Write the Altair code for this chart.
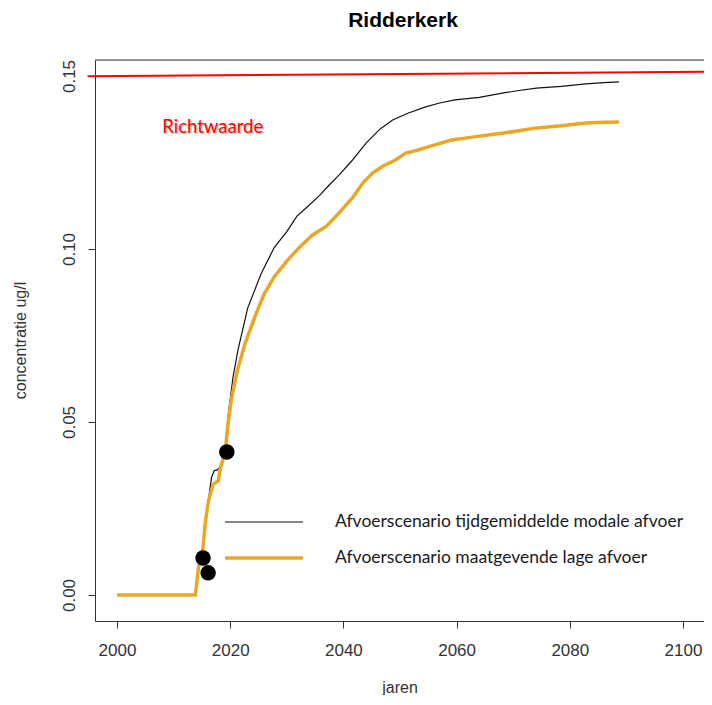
import altair as alt
import pandas as pd

# ---- data ----
title_text = "Ridderkerk"
series_names = ["Afvoerscenario tijdgemiddelde modale afvoer",
                "Afvoerscenario maatgevende lage afvoer"]

years_modaal = [2000, 2013.9, 2014.4, 2015.0, 2015.6, 2016.2, 2016.7, 2017.2, 2017.6, 2018.2,
                2019.1, 2019.65, 2020.5, 2021.4, 2023.1, 2025.5, 2027.8, 2030, 2031.8, 2033.5,
                2035.8, 2037.5, 2039.3, 2041.5, 2044.0, 2046.5, 2048.7, 2051.5, 2054.4, 2057,
                2059.7, 2064, 2068.3, 2071, 2074.1, 2078.5, 2082.8, 2086, 2088.7]
conc_modaal = [0, 0, 0.007, 0.012, 0.021, 0.028, 0.034, 0.036, 0.036, 0.037,
               0.042, 0.052, 0.063, 0.071, 0.083, 0.093, 0.1005, 0.105, 0.1095, 0.112,
               0.1155, 0.1185, 0.1215, 0.1255, 0.1306, 0.1347, 0.1373, 0.1393, 0.141, 0.1422,
               0.1431, 0.1438, 0.1451, 0.1458, 0.1465, 0.147, 0.1477, 0.1481, 0.1483]

years_laag = [2000, 2013.85, 2014.4, 2015.1, 2015.65, 2016.2, 2017.0, 2017.9, 2018.3, 2019.1,
              2019.65, 2020.2, 2021.2, 2022.6, 2024.5, 2026, 2027.8, 2030, 2032.3, 2034.5,
              2037.0, 2039, 2041.7, 2043.5, 2045.2, 2047, 2049.2, 2051, 2053.2, 2056,
              2059.1, 2063.1, 2068.3, 2071, 2074.1, 2078.5, 2082.8, 2086, 2088.7]
conc_laag = [0, 0, 0.008, 0.012, 0.0217, 0.0275, 0.032, 0.033, 0.037, 0.041,
             0.050, 0.0564, 0.0645, 0.0725, 0.081, 0.087, 0.092, 0.0965, 0.1006, 0.104,
             0.1066, 0.110, 0.115, 0.1192, 0.122, 0.124, 0.1257, 0.1277, 0.1286, 0.130,
             0.1315, 0.1324, 0.1335, 0.1342, 0.135, 0.1356, 0.1364, 0.1366, 0.1367]

dot_years = [2015.2, 2016.1, 2019.4]
dot_conc = [0.0107, 0.0064, 0.0413]

richtwaarde_years = [1994.8, 2103.7]
richtwaarde_conc = [0.1499, 0.1512]

x_ticks = [2000, 2020, 2040, 2060, 2080, 2100]
y_ticks = [0.00, 0.05, 0.10, 0.15]

# ---- tables ----
lines_df = pd.concat([
    pd.DataFrame({"jaar": years_modaal, "conc": conc_modaal, "serie": series_names[0]}),
    pd.DataFrame({"jaar": years_laag, "conc": conc_laag, "serie": series_names[1]}),
])
dots_df = pd.DataFrame({"jaar": dot_years, "conc": dot_conc})
rw_df = pd.DataFrame({"jaar": [richtwaarde_years[0]], "jaar2": [richtwaarde_years[1]],
                      "conc": [richtwaarde_conc[0]], "conc2": [richtwaarde_conc[1]]})
label_df = pd.DataFrame({"jaar": [2008.0], "conc": [0.1353], "tekst": ["Richtwaarde"]})
title_df = pd.DataFrame({"t": [title_text]})

W, H = 609, 561
xscale = alt.Scale(domain=[1996.113, 2103.71], nice=False, zero=False)
yscale = alt.Scale(domain=[-0.007514, 0.15462], nice=False, zero=False)

xaxis = alt.Axis(values=x_ticks, format="d", title="jaren", grid=False,
                 domainColor="#333333", tickColor="#333333", tickSize=7,
                 labelFont="Liberation Sans", labelFontSize=17, labelColor="#333333",
                 labelPadding=14, titleFont="Liberation Sans", titleFontSize=16,
                 titleFontWeight="normal", titleColor="#333333", titleY=66,
                 titleBaseline="middle")
yaxis = alt.Axis(values=y_ticks, format=".2f", title="concentratie ug/l", grid=False,
                 domainColor="#333333", tickColor="#333333", tickSize=7,
                 labelFont="Liberation Sans", labelFontSize=17, labelColor="#333333",
                 labelAngle=270, labelAlign="center", labelBaseline="bottom",
                 labelPadding=10, titleFont="Liberation Sans", titleFontSize=16,
                 titleFontWeight="normal", titleColor="#333333", titleAngle=270,
                 titleX=-75, titleY=280, titleAlign="center", titleBaseline="middle")

legend_opts = dict(title=None, orient="none", legendX=128, legendY=452,
                   symbolType="stroke", symbolSize=6084, clipHeight=20, rowPadding=16,
                   labelOffset=30, labelFont="Lato", labelFontSize=17.5,
                   labelColor="#1a1a1a", labelLimit=500, padding=0)

lines = alt.Chart(lines_df).mark_line(clip=True).encode(
    x=alt.X("jaar:Q", scale=xscale, axis=xaxis),
    y=alt.Y("conc:Q", scale=yscale, axis=yaxis),
    color=alt.Color("serie:N",
                    scale=alt.Scale(domain=series_names, range=["#111111", "#EAA726"]),
                    legend=alt.Legend(**legend_opts)),
    strokeWidth=alt.StrokeWidth("serie:N",
                                scale=alt.Scale(domain=series_names, range=[1.2, 3.5]),
                                legend=alt.Legend(**legend_opts)),
    detail="serie:N",
    order=alt.Order("jaar:Q"),
)

dots = alt.Chart(dots_df).mark_circle(color="black", opacity=1, size=240).encode(
    x=alt.X("jaar:Q", scale=xscale),
    y=alt.Y("conc:Q", scale=yscale),
)

rw_line = alt.Chart(rw_df).mark_rule(color="#FF0000", strokeWidth=2, clip=False).encode(
    x=alt.X("jaar:Q", scale=xscale), x2="jaar2:Q",
    y=alt.Y("conc:Q", scale=yscale), y2="conc2:Q",
)

rw_shadow = alt.Chart(label_df).mark_text(align="left", baseline="middle", font="Lato",
                                          fontSize=18.5, color="#c4c4c4", dx=1.5, dy=1.5
                                          ).encode(
    x=alt.X("jaar:Q", scale=xscale), y=alt.Y("conc:Q", scale=yscale), text="tekst:N")
rw_text = alt.Chart(label_df).mark_text(align="left", baseline="middle", font="Lato",
                                        fontSize=18.5, color="#FF0000").encode(
    x=alt.X("jaar:Q", scale=xscale), y=alt.Y("conc:Q", scale=yscale), text="tekst:N")

top_border = alt.Chart(title_df).mark_rule(color="#333333", strokeWidth=1).encode(
    x=alt.value(0), x2=alt.value(W), y=alt.value(0))

title_mark = alt.Chart(title_df).mark_text(font="Liberation Sans", fontSize=21,
                                           fontWeight="bold", color="black",
                                           align="center", baseline="alphabetic").encode(
    x=alt.value(308), y=alt.value(-33), text="t:N")

chart = alt.layer(top_border, lines, rw_line, rw_shadow, rw_text, dots, title_mark).properties(
    width=W, height=H,
    autosize=alt.AutoSizeParams(type="none"),
    padding={"left": 87, "top": 52, "right": 0, "bottom": 74},
).configure_view(stroke=None).configure(background="white")

chart.save("out.html", embed_options={"renderer": "svg", "actions": False})
